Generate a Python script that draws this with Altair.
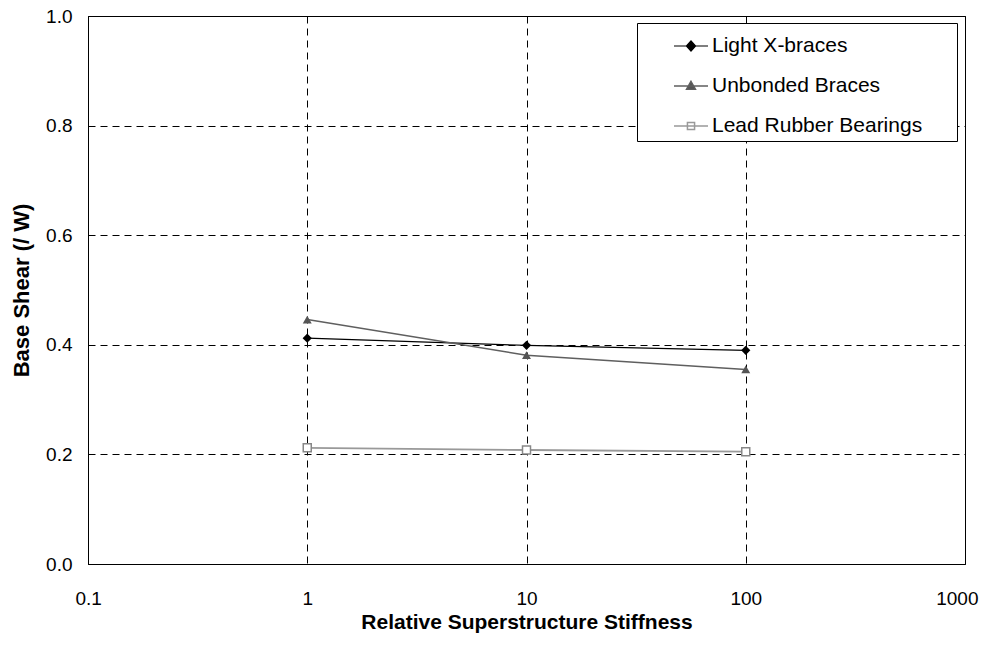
import altair as alt
import pandas as pd

# --- data ---
stiffness = [1, 10, 100]
light_x_braces = [0.412, 0.399, 0.390]
unbonded_braces = [0.446, 0.381, 0.355]
lead_rubber_bearings = [0.212, 0.208, 0.205]

series_names = ["Light X-braces", "Unbonded Braces", "Lead Rubber Bearings"]
x_ticks = [0.1, 1, 10, 100, 1000]
y_ticks = [0.0, 0.2, 0.4, 0.6, 0.8, 1.0]

rows = []
for name, vals in zip(series_names, [light_x_braces, unbonded_braces, lead_rubber_bearings]):
    for s, v in zip(stiffness, vals):
        rows.append({"stiffness": s, "value": v, "series": name})
df = pd.DataFrame(rows)

FONT = "Liberation Sans"

x_enc = alt.X(
    "stiffness:Q",
    scale=alt.Scale(type="log", domain=[0.1, 1000]),
    axis=alt.Axis(
        title="Relative Superstructure Stiffness",
        values=x_ticks,
        format="~g",
        grid=True,
        gridDash=[7, 5],
        gridColor="black",
        gridWidth=1,
        gridOpacity=1,
        domainColor="black",
        ticks=False,
        tickSize=0,
        labelFlush=True,
        labelFlushOffset=13,
        labelPadding=25,
        labelFontSize=19,
        titleFontSize=21,
        titlePadding=3,
    ),
)
y_enc = alt.Y(
    "value:Q",
    scale=alt.Scale(domain=[0, 1]),
    axis=alt.Axis(
        title="Base Shear (/ W)",
        values=y_ticks,
        format=".1f",
        grid=True,
        gridDash=[7, 5],
        gridColor="black",
        gridWidth=1,
        gridOpacity=1,
        domainColor="black",
        ticks=False,
        tickSize=0,
        labelFlush=False,
        labelPadding=16,
        labelFontSize=19,
        titleFontSize=22,
        titlePadding=12,
    ),
)

base = alt.Chart(df).encode(x=x_enc, y=y_enc)

def sel(name):
    return base.transform_filter(alt.datum.series == name)

line_lx = sel(series_names[0]).mark_line(color="black", strokeWidth=1.2)
line_ub = sel(series_names[1]).mark_line(color="#5f5f5f", strokeWidth=1.5)
line_lr = sel(series_names[2]).mark_line(color="#999999", strokeWidth=1.8)

pt_lx = sel(series_names[0]).mark_point(shape="diamond", filled=True, color="black", size=85, opacity=1)
pt_ub = sel(series_names[1]).mark_point(shape="triangle-up", filled=True, color="#555555", size=80, opacity=1)
pt_lr = sel(series_names[2]).mark_point(shape="square", filled=True, fill="white", stroke="#888888",
                                        strokeWidth=1.5, size=64, opacity=1)

# legend symbols: line segment with marker (custom SVG paths in unit coordinates)
legend_paths = [
    "M-1,0L1,0M0,-0.3L0.27,0L0,0.3L-0.27,0Z",
    "M-1,0L1,0M0,-0.28L0.27,0.2L-0.27,0.2Z",
    "M-1,0L1,0M-0.21,-0.21L0.21,-0.21L0.21,0.21L-0.21,0.21Z",
]
legend_strokes = ["black", "#5f5f5f", "#999999"]
legend_fills = ["black", "#555555", "white"]
legend_widths = [1.2, 1.5, 1.5]

leg = alt.Legend(
    title=None,
    orient="none",
    legendX=549,
    legendY=7,
    padding=5,
    symbolSize=1156,
    symbolOffset=31,
    labelOffset=3,
    rowPadding=12,
    labelFontSize=21,
    labelFont=FONT,
    labelColor="black",
    labelLimit=400,
    labelExpr="datum.label + '\u00a0\u00a0\u00a0\u00a0\u00a0\u200b'",
    fillColor="white",
    strokeColor="black",
)

legend_layer = alt.Chart(df).transform_filter("false").mark_point(opacity=1, filled=True).encode(
    x=alt.X("stiffness:Q"),
    y=alt.Y("value:Q"),
    shape=alt.Shape("series:N", scale=alt.Scale(domain=series_names, range=legend_paths), legend=leg),
    stroke=alt.Stroke("series:N", scale=alt.Scale(domain=series_names, range=legend_strokes), legend=leg),
    fill=alt.Fill("series:N", scale=alt.Scale(domain=series_names, range=legend_fills), legend=leg),
    strokeWidth=alt.StrokeWidth("series:N", scale=alt.Scale(domain=series_names, range=legend_widths), legend=leg),
)

chart = (
    alt.layer(line_lx, line_ub, line_lr, pt_lx, pt_ub, pt_lr, legend_layer)
    .properties(
        width=877,
        height=548,
        autosize=alt.AutoSizeParams(type="none"),
        padding={"left": 80, "top": 8, "right": 19, "bottom": 72},
        background="white",
    )
    .configure_view(stroke="black", strokeWidth=1)
    .configure_axis(labelFont=FONT, titleFont=FONT, labelColor="black", titleColor="black",
                    titleFontWeight="bold")
    .configure_legend(labelFont=FONT)
)

chart.save("out.html", embed_options={"renderer": "svg", "actions": False})
